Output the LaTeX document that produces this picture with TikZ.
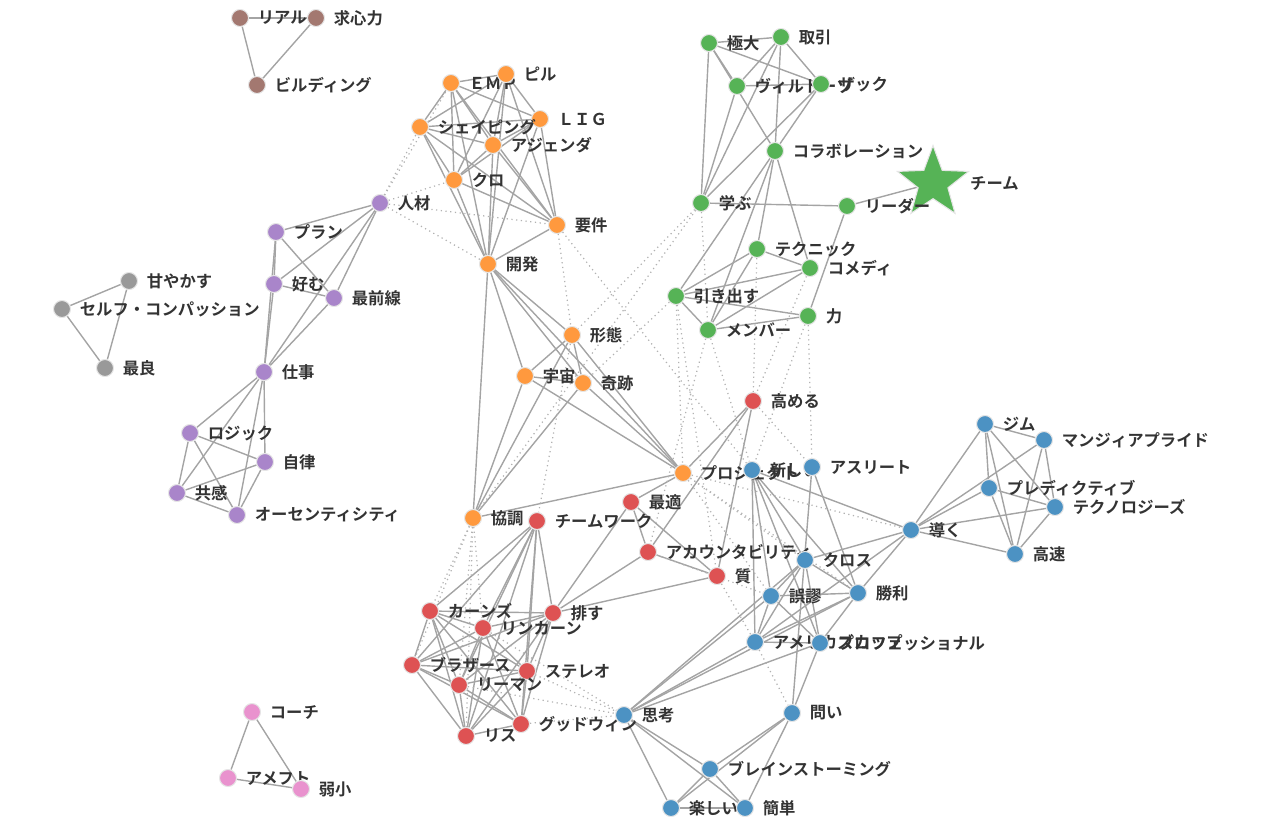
\documentclass[tikz,border=0pt]{standalone}
\usepackage{fontspec}
\setmainfont{Noto Sans CJK JP}[BoldFont={Noto Sans CJK JP Bold}]
\usetikzlibrary{shapes.geometric,backgrounds}
\definecolor{cblue}{HTML}{4C92C3}
\definecolor{corange}{HTML}{FF993E}
\definecolor{cgreen}{HTML}{56B356}
\definecolor{cred}{HTML}{DE5253}
\definecolor{cpurple}{HTML}{A985CA}
\definecolor{cbrown}{HTML}{A37870}
\definecolor{cpink}{HTML}{E992CE}
\definecolor{cgrey}{HTML}{999999}
\definecolor{edgegrey}{HTML}{A4A4A4}
\definecolor{txt}{HTML}{333333}

\begin{document}
\begin{tikzpicture}[x=0.02cm,y=-0.02cm,
  pt/.style={circle,minimum size=0.34cm,inner sep=0pt,draw=white!80!gray,line width=0.6pt},
  every label/.style={font=\fontsize{9.3}{11}\selectfont\bfseries,text=txt,inner sep=0pt},
  label distance=0.17cm,
  link/.style={draw=edgegrey,line width=0.8pt},
  weak/.style={draw=edgegrey!85,line width=0.7pt,dotted}
]
\useasboundingbox (0,0) rectangle (1280,825);

\node[pt,fill=cbrown,label=right:リアル] (riaru) at (240,18) {};
\node[pt,fill=cbrown,label=right:求心力] (kyushin) at (316,18) {};
\node[pt,fill=cbrown,label=right:ビルディング] (birudingu) at (257,85) {};

\node[pt,fill=corange,label=right:ＥＭＰ] (emp) at (451,83) {};
\node[pt,fill=corange,label=right:ピル] (piru) at (506,74) {};
\node[pt,fill=corange,label=right:ＬＩＧ] (lig) at (540,119) {};
\node[pt,fill=corange,label=right:シェイピング] (shape) at (420,127) {};
\node[pt,fill=corange,label=right:アジェンダ] (agenda) at (493,145) {};
\node[pt,fill=corange,label=right:クロ] (kuro) at (454,180) {};
\node[pt,fill=corange,label=right:要件] (yoken) at (557,225) {};
\node[pt,fill=corange,label=right:開発] (kaihatsu) at (488,264) {};
\node[pt,fill=corange,label=right:形態] (keitai) at (572,335) {};
\node[pt,fill=corange,label=right:宇宙] (uchu) at (525,376) {};
\node[pt,fill=corange,label=right:奇跡] (kiseki) at (583,383) {};
\node[pt,fill=corange,label=right:協調] (kyocho) at (473,518) {};
\node[pt,fill=corange,label=right:プロジェクト] (proj) at (683,473) {};

\node[pt,fill=cpurple,label=right:人材] (jinzai) at (380,203) {};
\node[pt,fill=cpurple,label=right:プラン] (plan) at (276,232) {};
\node[pt,fill=cpurple,label=right:好む] (konomu) at (274,284) {};
\node[pt,fill=cpurple,label=right:最前線] (saizen) at (334,298) {};
\node[pt,fill=cpurple,label=right:仕事] (shigoto) at (264,372) {};
\node[pt,fill=cpurple,label=right:ロジック] (logic) at (190,433) {};
\node[pt,fill=cpurple,label=right:自律] (jiritsu) at (265,462) {};
\node[pt,fill=cpurple,label=right:共感] (kyokan) at (177,493) {};
\node[pt,fill=cpurple,label=right:オーセンティシティ] (auth) at (237,515) {};

\node[pt,fill=cgrey,label=right:甘やかす] (amayakasu) at (129,281) {};
\node[pt,fill=cgrey,label=right:セルフ・コンパッション] (selfc) at (62,309) {};
\node[pt,fill=cgrey,label=right:最良] (sairyo) at (105,368) {};

\node[pt,fill=cpink,label=right:コーチ] (coach) at (252,712) {};
\node[pt,fill=cpink,label=right:アメフト] (amefuto) at (228,778) {};
\node[pt,fill=cpink,label=right:弱小] (jakusho) at (301,789) {};

\node[pt,fill=cgreen,label=right:極大] (kyokudai) at (709,43) {};
\node[pt,fill=cgreen,label=right:取引] (torihiki) at (781,37) {};
\node[pt,fill=cgreen,label=right:ヴィルトーゾ] (virtu) at (737,86) {};
\node[pt,fill=cgreen,label=right:ザック] (zakku) at (821,84) {};
\node[pt,fill=cgreen,label=right:コラボレーション] (collab) at (775,151) {};
\node[star,star points=5,star point ratio=2.4,minimum size=1.5cm,inner sep=0pt,
  fill=cgreen,draw=white!80!gray,line width=0.6pt,
  label={[label distance=0.3cm]right:チーム}] (team) at (933,183) {};
\node[pt,fill=cgreen,label=right:学ぶ] (manabu) at (701,203) {};
\node[pt,fill=cgreen,label=right:リーダー] (leader) at (847,206) {};
\node[pt,fill=cgreen,label=right:テクニック] (tech) at (757,249) {};
\node[pt,fill=cgreen,label=right:コメディ] (comedy) at (810,268) {};
\node[pt,fill=cgreen,label=right:引き出す] (hikidasu) at (676,296) {};
\node[pt,fill=cgreen,label=right:力] (chikara) at (808,316) {};
\node[pt,fill=cgreen,label=right:メンバー] (member) at (708,330) {};

\node[pt,fill=cred,label=right:高める] (takameru) at (753,401) {};
\node[pt,fill=cred,label=right:最適] (saiteki) at (631,502) {};
\node[pt,fill=cred,label=right:チームワーク] (teamwork) at (537,521) {};
\node[pt,fill=cred,label=right:アカウンタビリティ] (account) at (648,552) {};
\node[pt,fill=cred,label=right:質] (shitsu) at (717,576) {};
\node[pt,fill=cred,label=right:カーンズ] (kanzu) at (430,611) {};
\node[pt,fill=cred,label=right:排す] (haisu) at (553,613) {};
\node[pt,fill=cred,label=right:リンカーン] (lincoln) at (483,628) {};
\node[pt,fill=cred,label=right:ブラザース] (brothers) at (412,665) {};
\node[pt,fill=cred,label=right:ステレオ] (stereo) at (527,671) {};
\node[pt,fill=cred,label=right:リーマン] (lehman) at (459,685) {};
\node[pt,fill=cred,label=right:グッドウィン] (goodwin) at (521,724) {};
\node[pt,fill=cred,label=right:リス] (risu) at (466,736) {};

\node[pt,fill=cblue,label=right:新しい] (atarashii) at (752,470) {};
\node[pt,fill=cblue,label=right:アスリート] (athlete) at (812,467) {};
\node[pt,fill=cblue,label=right:導く] (michibiku) at (911,530) {};
\node[pt,fill=cblue,label=right:ジム] (gym) at (985,424) {};
\node[pt,fill=cblue,label=right:マンジィアプライド] (mangia) at (1044,440) {};
\node[pt,fill=cblue,label=right:プレディクティブ] (predictive) at (989,488) {};
\node[pt,fill=cblue,label=right:テクノロジーズ] (technol) at (1055,507) {};
\node[pt,fill=cblue,label=right:高速] (kosoku) at (1015,554) {};
\node[pt,fill=cblue,label=right:クロス] (cross) at (805,560) {};
\node[pt,fill=cblue,label=right:誤謬] (gobyu) at (771,596) {};
\node[pt,fill=cblue,label=right:勝利] (shori) at (858,593) {};
\node[pt,fill=cblue,label=right:アメリカズカップ] (americas) at (755,642) {};
\node[pt,fill=cblue,label=right:プロフェッショナル] (pro) at (820,643) {};
\node[pt,fill=cblue,label=right:問い] (toi) at (792,713) {};
\node[pt,fill=cblue,label=right:思考] (shiko) at (624,715) {};
\node[pt,fill=cblue,label=right:ブレインストーミング] (brain) at (710,769) {};
\node[pt,fill=cblue,label=right:楽しい] (tanoshii) at (671,808) {};
\node[pt,fill=cblue,label=right:簡単] (kantan) at (745,808) {};

\begin{pgfonlayer}{background}
\foreach \a/\b in {riaru/kyushin,riaru/birudingu,kyushin/birudingu,
  amayakasu/selfc,amayakasu/sairyo,selfc/sairyo,
  coach/amefuto,coach/jakusho,amefuto/jakusho,
  emp/piru,emp/lig,emp/shape,emp/kuro,emp/kaihatsu,emp/yoken,emp/agenda,
  piru/shape,piru/agenda,piru/kuro,piru/kaihatsu,piru/yoken,piru/lig,
  lig/shape,lig/agenda,lig/kuro,lig/kaihatsu,lig/yoken,
  shape/agenda,shape/kuro,shape/kaihatsu,shape/yoken,
  agenda/kuro,agenda/kaihatsu,agenda/yoken,kuro/kaihatsu,kuro/yoken,kaihatsu/yoken,
  kaihatsu/kyocho,kaihatsu/uchu,kaihatsu/kiseki,kaihatsu/keitai,kaihatsu/proj,
  keitai/uchu,keitai/kiseki,keitai/kyocho,keitai/proj,
  uchu/kiseki,uchu/kyocho,uchu/proj,kiseki/kyocho,kiseki/proj,kyocho/proj,
  jinzai/plan,jinzai/konomu,jinzai/saizen,jinzai/shigoto,
  plan/konomu,plan/saizen,plan/shigoto,konomu/saizen,konomu/shigoto,saizen/shigoto,
  shigoto/logic,shigoto/kyokan,shigoto/jiritsu,shigoto/auth,
  logic/jiritsu,logic/kyokan,logic/auth,kyokan/jiritsu,kyokan/auth,jiritsu/auth,
  kyokudai/torihiki,kyokudai/virtu,kyokudai/zakku,kyokudai/manabu,kyokudai/collab,
  torihiki/virtu,torihiki/zakku,torihiki/manabu,torihiki/collab,
  virtu/zakku,virtu/manabu,zakku/manabu,zakku/collab,
  collab/hikidasu,collab/tech,collab/member,collab/comedy,
  manabu/leader,leader/team,leader/chikara,
  tech/comedy,tech/hikidasu,tech/member,comedy/hikidasu,comedy/member,
  hikidasu/chikara,hikidasu/member,member/chikara,
  takameru/proj,takameru/account,takameru/shitsu,
  saiteki/account,saiteki/shitsu,saiteki/haisu,saiteki/proj,
  account/shitsu,account/haisu,shitsu/haisu,
  teamwork/haisu,teamwork/kanzu,teamwork/lincoln,teamwork/brothers,
  teamwork/stereo,teamwork/lehman,teamwork/risu,teamwork/goodwin,
  kanzu/haisu,kanzu/lincoln,kanzu/brothers,kanzu/stereo,kanzu/lehman,kanzu/goodwin,kanzu/risu,
  haisu/lincoln,haisu/brothers,haisu/stereo,haisu/lehman,haisu/goodwin,haisu/risu,
  lincoln/brothers,lincoln/stereo,lincoln/lehman,lincoln/goodwin,lincoln/risu,
  brothers/stereo,brothers/lehman,brothers/goodwin,brothers/risu,
  stereo/lehman,stereo/goodwin,stereo/risu,lehman/goodwin,lehman/risu,goodwin/risu,
  atarashii/michibiku,atarashii/cross,atarashii/gobyu,atarashii/shori,
  atarashii/americas,atarashii/pro,athlete/toi,athlete/shori,
  michibiku/gym,michibiku/mangia,michibiku/predictive,michibiku/technol,
  michibiku/kosoku,michibiku/cross,michibiku/americas,michibiku/shori,
  gym/mangia,gym/predictive,gym/kosoku,gym/technol,
  mangia/technol,mangia/kosoku,predictive/technol,predictive/kosoku,technol/kosoku,
  cross/gobyu,cross/shori,cross/americas,cross/pro,
  gobyu/shori,gobyu/americas,gobyu/pro,shori/americas,shori/pro,shori/shiko,
  americas/pro,americas/shiko,pro/toi,pro/shiko,cross/shiko,gobyu/shiko,
  toi/brain,toi/tanoshii,toi/kantan,shiko/brain,shiko/tanoshii,shiko/kantan,
  brain/tanoshii,brain/kantan,tanoshii/kantan}
  \draw[link] (\a) -- (\b);
\foreach \a/\b in {jinzai/shape,jinzai/emp,jinzai/kuro,jinzai/yoken,jinzai/kaihatsu,
  yoken/keitai,yoken/atarashii,manabu/keitai,manabu/kyocho,manabu/member,
  hikidasu/kiseki,hikidasu/proj,hikidasu/shitsu,member/atarashii,member/account,
  tech/takameru,comedy/takameru,chikara/athlete,chikara/atarashii,takameru/athlete,
  proj/cross,proj/gobyu,proj/michibiku,proj/shori,keitai/teamwork,
  kyocho/kanzu,kyocho/brothers,kyocho/risu,kyocho/lehman,kyocho/lincoln,
  stereo/shiko,goodwin/shiko,lehman/shiko,lincoln/shiko,
  shitsu/americas,americas/toi,account/gobyu}
  \draw[weak] (\a) -- (\b);
\end{pgfonlayer}
\end{tikzpicture}
\end{document}
